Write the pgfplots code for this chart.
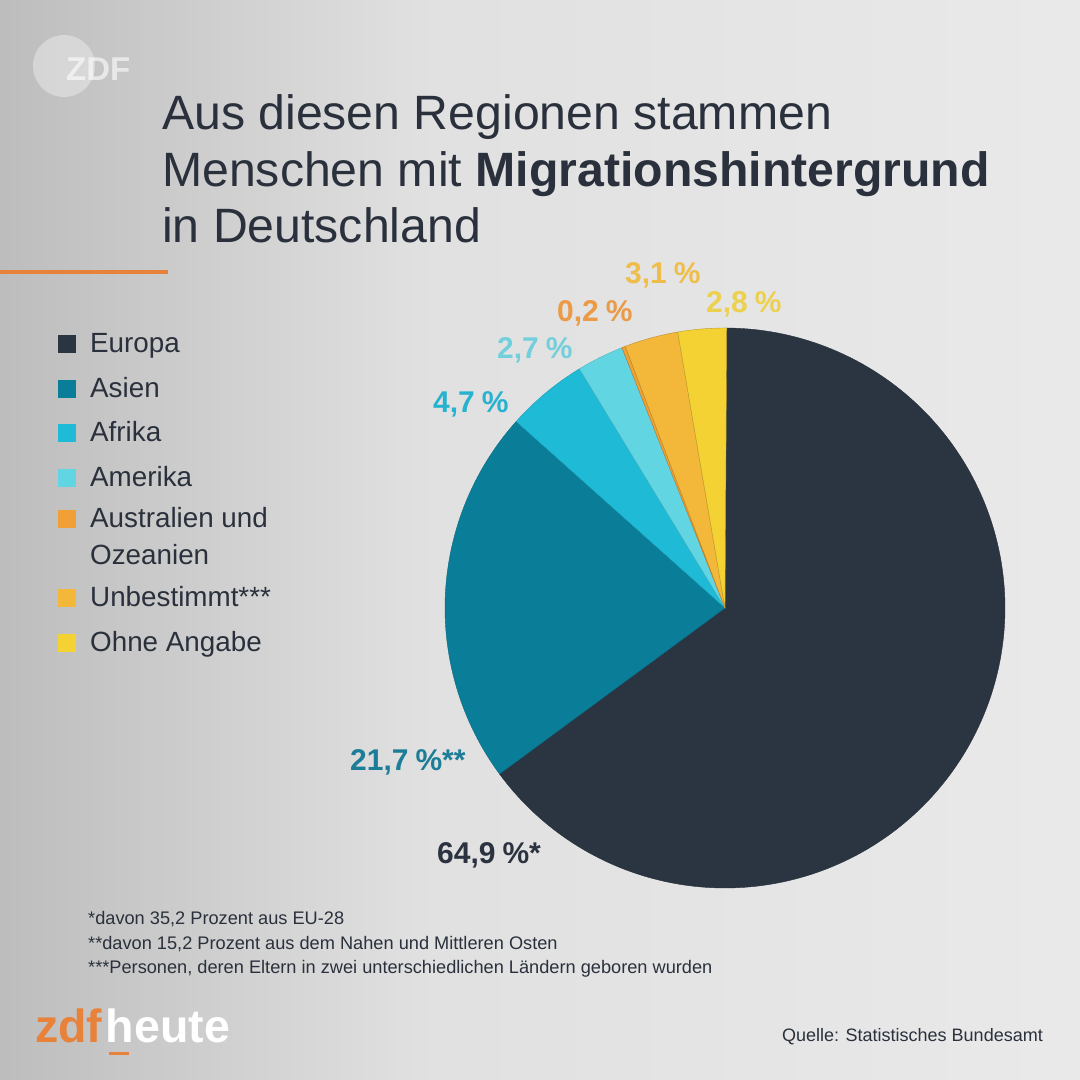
\documentclass[border=0pt]{standalone}
\usepackage{fontspec}
\setmainfont{Liberation Sans}
\setsansfont{Liberation Sans}
\usepackage{pgfplots}
\usepackage{pgfplotstable}
\pgfplotsset{compat=1.18}

\definecolor{cTitle}{HTML}{2A313C}
\definecolor{cOrangeLine}{HTML}{E8823A}
\definecolor{cEur}{HTML}{2B3542}
\definecolor{cAsi}{HTML}{0A7D98}
\definecolor{cAfr}{HTML}{1EBAD6}
\definecolor{cAme}{HTML}{62D5E3}
\definecolor{cAus}{HTML}{F0A035}
\definecolor{cUnb}{HTML}{F3B83A}
\definecolor{cOhn}{HTML}{F5D234}
\definecolor{lEur}{HTML}{2B3340}
\definecolor{lAsi}{HTML}{1B7D97}
\definecolor{lAfr}{HTML}{27B2CF}
\definecolor{lAme}{HTML}{74CFDC}
\definecolor{lAus}{HTML}{EB9A45}
\definecolor{lUnb}{HTML}{EEBD4A}
\definecolor{lOhn}{HTML}{ECD04E}

\pgfplotstableread{
region value
Europa 64.9
Asien 21.7
Afrika 4.7
Amerika 2.7
Australien 0.2
Unbestimmt 3.1
OhneAngabe 2.8
}\piedata

\newcommand\pieangle[2]{%
  \pgfplotstablegetelem{#1}{value}\of\piedata
  \pgfmathsetmacro\tmpang{\cum-3.6*\pgfplotsretval}%
  \expandafter\xdef\csname pie#2\endcsname{\tmpang}%
  \xdef\cum{\tmpang}}

\begin{document}
\begin{tikzpicture}[x=1pt,y=1pt]
\gdef\cum{90}
\pieangle{0}{A}\pieangle{1}{B}\pieangle{2}{C}\pieangle{3}{D}%
\pieangle{4}{E}\pieangle{5}{F}\pieangle{6}{G}%
\path[use as bounding box] (0,0) rectangle (1080,1080);
\shade[left color=black!26, right color=black!12] (0,0) rectangle (420,1080);
\shade[left color=black!12, right color=black!8.5] (419.5,0) rectangle (1080,1080);

% ZDF logo
\fill[white, opacity=0.35] (64,1014) circle (31);
\node[anchor=base west, inner sep=0, text=white, opacity=0.6,
      font=\bfseries\fontsize{33}{33}\selectfont] at (66,999) {ZDF};

% title
\node[anchor=base west, inner sep=0, text=cTitle, font=\fontsize{48.2}{57}\selectfont]
  at (162,950) {Aus diesen Regionen stammen};
\node[anchor=base west, inner sep=0, text=cTitle, font=\fontsize{48.2}{57}\selectfont]
  at (162,893) {Menschen mit \textbf{Migrationshintergrund}};
\node[anchor=base west, inner sep=0, text=cTitle, font=\fontsize{48.2}{57}\selectfont]
  at (162,837) {in Deutschland};
\fill[cOrangeLine] (0,806) rectangle (168,809.5);

% legend
\foreach \c/\t/\yy in {cEur/Europa/353, cAsi/Asien/398, cAfr/Afrika/442, cAme/Amerika/487,
    cAus/Australien und/528, cUnb/Unbestimmt***/607, cOhn/Ohne Angabe/652}{
  \fill[\c] (58,1080-\yy) rectangle (76,1080-\yy+18);
  \node[anchor=base west, inner sep=0, text=cTitle, font=\fontsize{27.8}{30}\selectfont]
    at (90,1080-\yy) {\t};
}
\node[anchor=base west, inner sep=0, text=cTitle, font=\fontsize{27.8}{30}\selectfont]
  at (90,1080-565) {Ozeanien};

% pie
\begin{axis}[at={(725pt,472pt)}, anchor=center, scale only axis,
  width=560pt, height=560pt, xmin=-1, xmax=1, ymin=-1, ymax=1,
  hide axis, clip=false]
\addplot[fill=cEur, draw=cEur!85!black, line width=0.4pt, domain=\pieA:90, samples=200]
  ({cos(x)},{sin(x)}) -- (axis cs:0,0) -- cycle;
\addplot[fill=cAsi, draw=cAsi!85!black, line width=0.4pt, domain=\pieB:\pieA, samples=80]
  ({cos(x)},{sin(x)}) -- (axis cs:0,0) -- cycle;
\addplot[fill=cAfr, draw=cAfr!85!black, line width=0.4pt, domain=\pieC:\pieB, samples=30]
  ({cos(x)},{sin(x)}) -- (axis cs:0,0) -- cycle;
\addplot[fill=cAme, draw=cAme!85!black, line width=0.4pt, domain=\pieD:\pieC, samples=20]
  ({cos(x)},{sin(x)}) -- (axis cs:0,0) -- cycle;
\addplot[fill=cAus, draw=cAus!75!black, line width=0.4pt, domain=\pieE:\pieD, samples=5]
  ({cos(x)},{sin(x)}) -- (axis cs:0,0) -- cycle;
\addplot[fill=cUnb, draw=cUnb!75!black, line width=0.4pt, domain=\pieF:\pieE, samples=20]
  ({cos(x)},{sin(x)}) -- (axis cs:0,0) -- cycle;
\addplot[fill=cOhn, draw=cOhn!75!black, line width=0.4pt, domain=\pieG:\pieF, samples=20]
  ({cos(x)},{sin(x)}) -- (axis cs:0,0) -- cycle;
\end{axis}

% slice labels
\tikzset{plab/.style={anchor=base west, inner sep=0, font=\bfseries\fontsize{30}{32}\selectfont}}
\newcommand\pc{\kern7pt\%}
\node[plab, text=lEur] at (437,1080-864) {64,9\pc*};
\node[plab, text=lAsi] at (350,1080-771) {21,7\pc**};
\node[plab, text=lAfr] at (433,1080-413) {4,7\pc};
\node[plab, text=lAme] at (497,1080-359) {2,7\pc};
\node[plab, text=lAus] at (557,1080-322) {0,2\pc};
\node[plab, text=lUnb] at (625,1080-284) {3,1\pc};
\node[plab, text=lOhn] at (706,1080-313) {2,8\pc};

% footnotes
\tikzset{fn/.style={anchor=base west, inner sep=0, text=cTitle, font=\fontsize{18.2}{20}\selectfont}}
\node[fn] at (88,1080-925) {*davon 35,2 Prozent aus EU-28};
\node[fn] at (88,1080-950) {**davon 15,2 Prozent aus dem Nahen und Mittleren Osten};
\node[fn] at (88,1080-974) {***Personen, deren Eltern in zwei unterschiedlichen Ländern geboren wurden};

% zdfheute logo
\node[anchor=base west, inner sep=0, font=\bfseries\fontsize{46.5}{46}\selectfont]
  at (35,1080-1043) {\textcolor{cOrangeLine}{zdf}\kern3.5pt\textcolor{white}{heute}};
\fill[cOrangeLine] (109,1080-1055) rectangle (129,1080-1052);

% source
\node[anchor=base east, inner sep=0, text=cTitle, font=\fontsize{18}{20}\selectfont]
  at (1043,1080-1042) {Quelle: Statistisches Bundesamt};
\end{tikzpicture}
\end{document}
